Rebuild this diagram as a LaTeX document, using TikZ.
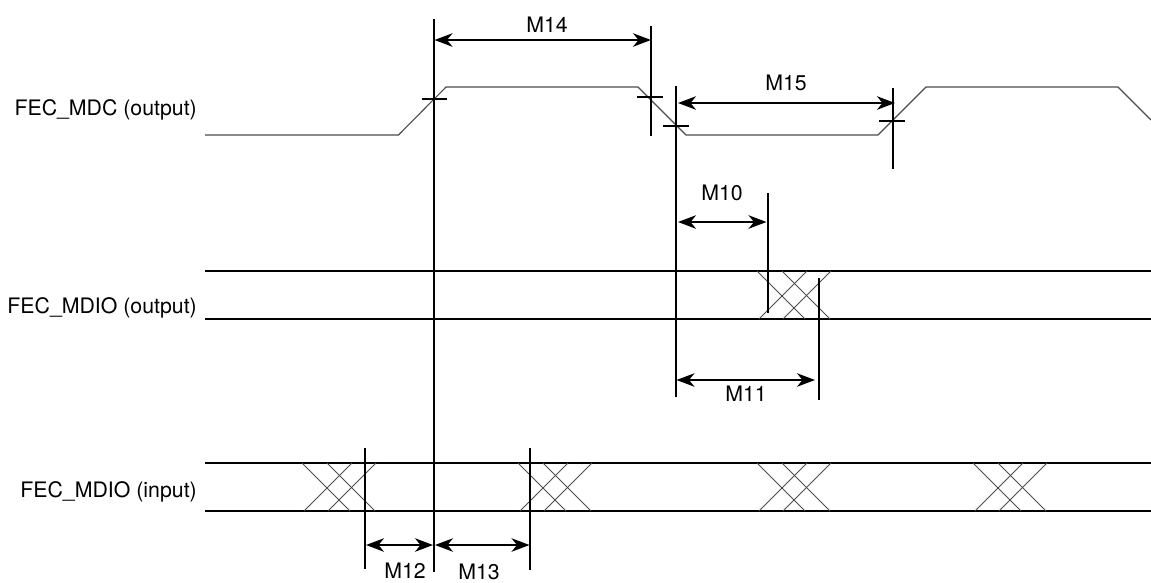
\documentclass[tikz,border=0pt]{standalone}
\usepackage{fontspec}
\setmainfont{TeX Gyre Heros}
\usetikzlibrary{arrows.meta}
\tikzset{
  x=1pt,y=-1pt,
  rail/.style={line width=1.7pt,black,line cap=butt},
  mark line/.style={line width=1.7pt,black},
  tickmark/.style={line width=1.5pt,black},
  wave/.style={line width=1.1pt,black!70,line join=miter},
  cross/.style={line width=0.9pt,black!70},
  dim/.style={line width=1.8pt,black,{Stealth[length=18pt,width=13.5pt,inset=5.5pt]}-{Stealth[length=18pt,width=13.5pt,inset=5.5pt]}},
  lab/.style={font=\fontsize{21.3}{25}\selectfont,inner sep=0pt,anchor=base},
  sig/.style={font=\fontsize{21.3}{25}\selectfont,inner sep=0pt,anchor=base east},
}
\newcommand{\xcross}[3]{% left x, top y, bottom y
  \draw[cross] (#1,#2) -- ({#1+48},#3);
  \draw[cross] ({#1+25},#2) -- ({#1+73},#3);
  \draw[cross] ({#1+50},#2) -- ({#1+2},#3);
  \draw[cross] ({#1+74},#2) -- ({#1+26},#3);
}
\begin{document}
\begin{tikzpicture}
\useasboundingbox (0,0) rectangle (1151,582);
% signal labels
\node[sig] (lmdc) at (197,115) {FEC\_MDC (output)};
\node[sig] (lout) at (197,313) {FEC\_MDIO (output)};
\node[sig] (lin) at (197,497) {FEC\_MDIO (input)};
% waveform
\draw[wave] (205,135) -- (398.5,135) -- (446,87) -- (638,87) -- (686,135) -- (878,135) -- (926,87) -- (1118,87) -- (1151,120);
% rails
\coordinate (o1a) at (205,271); \coordinate (o1b) at (1151,271);
\coordinate (o2a) at (205,319); \coordinate (o2b) at (1151,319);
\coordinate (i1a) at (205,463); \coordinate (i1b) at (1151,463);
\coordinate (i2a) at (205,511); \coordinate (i2b) at (1151,511);
\draw[rail] (o1a) -- (o1b);
\draw[rail] (o2a) -- (o2b);
\draw[rail] (i1a) -- (i1b);
\draw[rail] (i2a) -- (i2b);
% crossings
\xcross{757}{271}{319}
\xcross{302}{463}{511}
\xcross{518}{463}{511}
\xcross{757}{463}{511}
\xcross{973}{463}{511}
% vertical markers
\coordinate (a1) at (434,19);   \coordinate (a2) at (434,572);
\coordinate (b1) at (651,26);   \coordinate (b2) at (651,136);
\coordinate (c1) at (676,86);   \coordinate (c2) at (676,397);
\coordinate (d1) at (893,88);   \coordinate (d2) at (893,169);
\coordinate (e1) at (768,193);  \coordinate (e2) at (768,313);
\coordinate (f1) at (819,278);  \coordinate (f2) at (819,400);
\coordinate (g1) at (365,448);  \coordinate (g2) at (365,569);
\coordinate (h1) at (530,448);  \coordinate (h2) at (530,570);
\foreach \p in {a,b,c,d,e,f,g,h} \draw[mark line] (\p1) -- (\p2);
% threshold ticks
\draw[tickmark] (422,99) -- (447,99);
\draw[tickmark] (637,97) -- (663,97);
\draw[tickmark] (663,126) -- (689,126);
\draw[tickmark] (879,121) -- (905,121);
% dimension arrows
\coordinate (m14a) at (434.5,40);  \coordinate (m14b) at (651,40);
\coordinate (m15a) at (678,103);   \coordinate (m15b) at (895,103);
\coordinate (m10a) at (678,222);   \coordinate (m10b) at (766.5,222);
\coordinate (m11a) at (676.5,380); \coordinate (m11b) at (815,380);
\coordinate (m12a) at (366,545);   \coordinate (m12b) at (433,545);
\coordinate (m13a) at (435,545);   \coordinate (m13b) at (529.5,545);
\draw[dim] (m14a) -- (m14b);
\draw[dim] (m15a) -- (m15b);
\draw[dim] (m10a) -- (m10b);
\draw[dim] (m11a) -- (m11b);
\draw[dim] (m12a) -- (m12b);
\draw[dim] (m13a) -- (m13b);
% dimension labels
\node[lab] (t14) at (547,32) {M14};
\node[lab] (t15) at (786,90) {M15};
\node[lab] (t10) at (722,200) {M10};
\node[lab] (t11) at (746,401) {M11};
\node[lab] (t12) at (405,578) {M12};
\node[lab] (t13) at (479,579) {M13};
\end{tikzpicture}
\end{document}
